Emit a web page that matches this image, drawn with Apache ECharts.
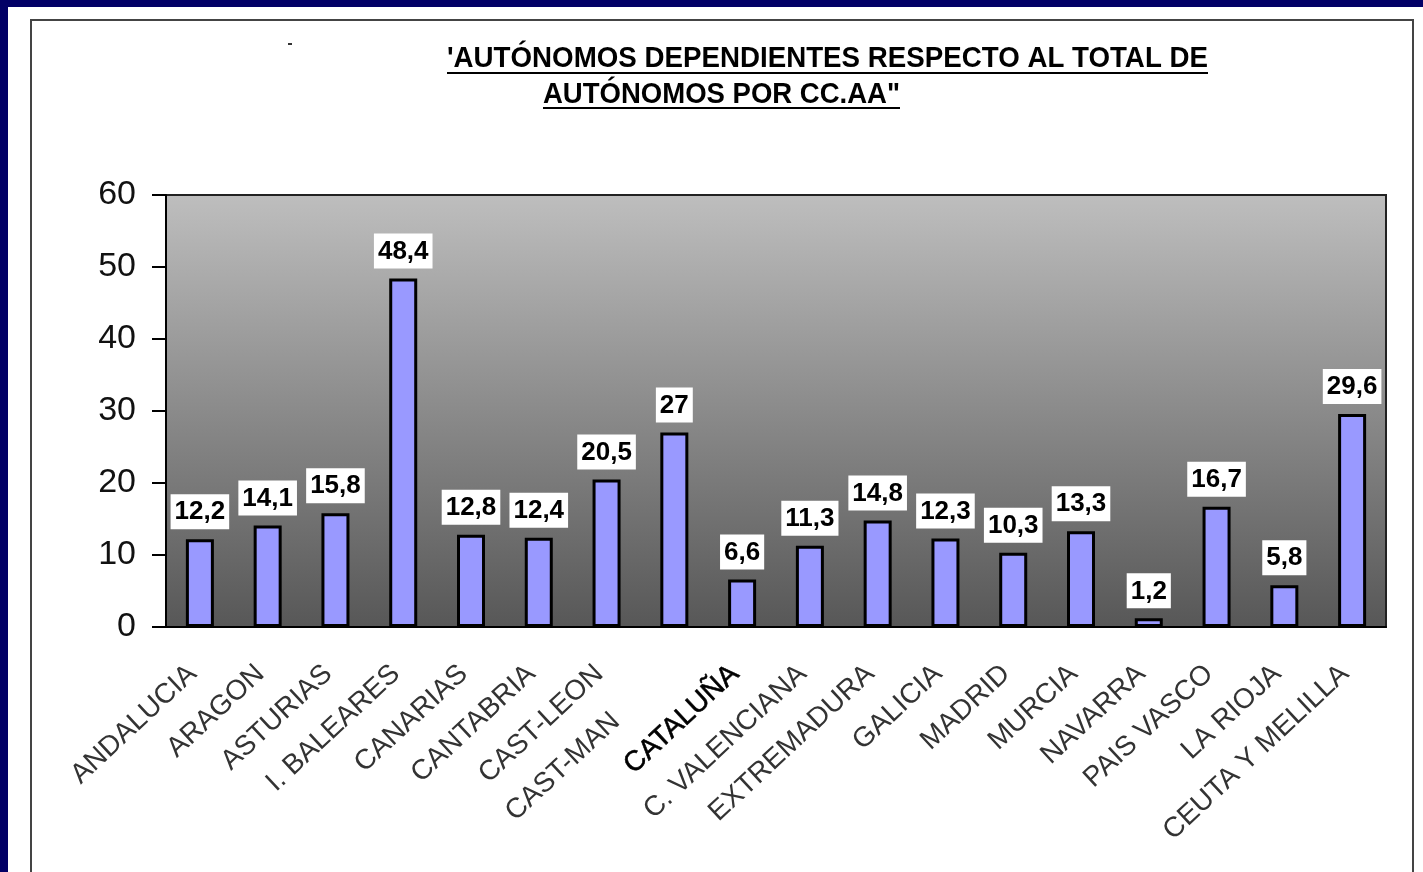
<!DOCTYPE html>
<html>
<head>
<meta charset="utf-8">
<script src="https://cdn.jsdelivr.net/npm/echarts@6/dist/echarts.min.js"></script>
<style>
    html, body { margin: 0; padding: 0; background: #020066; }
    #panel { position: absolute; left: 8px; top: 7px; width: 1415px; height: 865px; background: #fff; }
    #frame { position: absolute; left: 30px; top: 19px; width: 1384px; height: 900px;
             border: 2px solid #444; box-sizing: border-box; }
    #main { position: absolute; left: 0; top: 0; width: 1423px; height: 872px; }
</style>
</head>
<body>
<div id="panel"></div>
<div id="frame"></div>
<div id="main"></div>
<script>
// datos por comunidad autonoma (%)
var categories = ['ANDALUCIA', 'ARAGON', 'ASTURIAS', 'I. BALEARES', 'CANARIAS', 'CANTABRIA',
    'CAST-LEON', 'CAST-MAN', 'CATALUÑA', 'C. VALENCIANA', 'EXTREMADURA', 'GALICIA',
    'MADRID', 'MURCIA', 'NAVARRA', 'PAIS VASCO', 'LA RIOJA', 'CEUTA Y MELILLA'];
var values = [12.2, 14.1, 15.8, 48.4, 12.8, 12.4, 20.5, 27, 6.6, 11.3, 14.8, 12.3,
    10.3, 13.3, 1.2, 16.7, 5.8, 29.6];
var titleLines = ["'AUTÓNOMOS DEPENDIENTES RESPECTO AL TOTAL DE", 'AUTÓNOMOS POR CC.AA"'];

var FONT = '"Liberation Sans", Arial, sans-serif';

// ajustar ancho del titulo
var ctx = document.createElement('canvas').getContext('2d');
ctx.font = 'bold 29px ' + FONT;
function fitScale(txt, w) { return w / ctx.measureText(txt).width; }

var myChart = echarts.init(document.getElementById('main'));

var option = {
    backgroundColor: 'transparent',
    animation: false,
    graphic: [
        { type: 'text', x: 447, y: 44, scaleX: fitScale(titleLines[0], 761),
          style: { text: titleLines[0], font: 'bold 29px ' + FONT, fill: '#000' } },
        { type: 'line', shape: { x1: 447, y1: 73, x2: 1208, y2: 73 }, style: { stroke: '#000', lineWidth: 2 } },
        { type: 'text', x: 543, y: 80, scaleX: fitScale(titleLines[1], 357),
          style: { text: titleLines[1], font: 'bold 29px ' + FONT, fill: '#000' } },
        { type: 'line', shape: { x1: 543, y1: 108, x2: 900, y2: 108 }, style: { stroke: '#000', lineWidth: 2 } },
        { type: 'line', shape: { x1: 288, y1: 44, x2: 292, y2: 44 }, style: { stroke: '#333', lineWidth: 2 } }
    ],
    grid: {
        left: 166, top: 195, width: 1220, height: 432,
        show: true,
        backgroundColor: new echarts.graphic.LinearGradient(0, 0, 0, 1, [
            { offset: 0, color: '#bebebe' },
            { offset: 1, color: '#575757' }
        ]),
        borderColor: '#222',
        borderWidth: 2
    },
    xAxis: {
        type: 'category',
        data: categories,
        axisLine: { lineStyle: { color: '#000', width: 2 } },
        axisTick: { length: 8, lineStyle: { color: '#000', width: 2 } },
        axisLabel: {
            interval: 0,
            rotate: 43,
            margin: 36,
            fontSize: 28,
            fontFamily: FONT,
            color: '#333',
            formatter: function (v) {
                if (v === 'CAST-MAN') return '{cut|' + v + '}';
                if (v === 'CATALUÑA') return '{b|' + v + '}';
                return '{n|' + v + '}';
            },
            rich: {
                n: { fontSize: 28, fontFamily: FONT, color: '#333', padding: [0, 10, 0, 0] },
                cut: { fontSize: 28, fontFamily: FONT, color: '#333', padding: [0, 80, 0, 0] },
                b: { fontSize: 28, fontFamily: FONT, color: '#000', padding: [0, 10, 0, 0],
                     textBorderColor: '#000', textBorderWidth: 0.6 }
            }
        }
    },
    yAxis: {
        type: 'value',
        min: 0,
        max: 60,
        interval: 10,
        splitLine: { show: false },
        axisLine: { show: true, lineStyle: { color: '#000', width: 2 } },
        axisTick: { show: true, length: 14, lineStyle: { color: '#000', width: 2 } },
        axisLabel: { fontSize: 34, fontFamily: FONT, color: '#111', margin: 30 }
    },
    series: [{
        type: 'bar',
        data: values,
        barWidth: 28,
        itemStyle: { color: '#9999ff', borderColor: '#000', borderWidth: 3 },
        label: {
            show: true,
            position: 'top',
            distance: 10,
            fontSize: 26,
            fontWeight: 'bold',
            fontFamily: FONT,
            color: '#000',
            backgroundColor: '#fff',
            padding: [5, 4, 4, 4],
            formatter: function (p) { return String(p.value).replace('.', ','); }
        }
    }]
};
myChart.setOption(option);
</script>
</body>
</html>
